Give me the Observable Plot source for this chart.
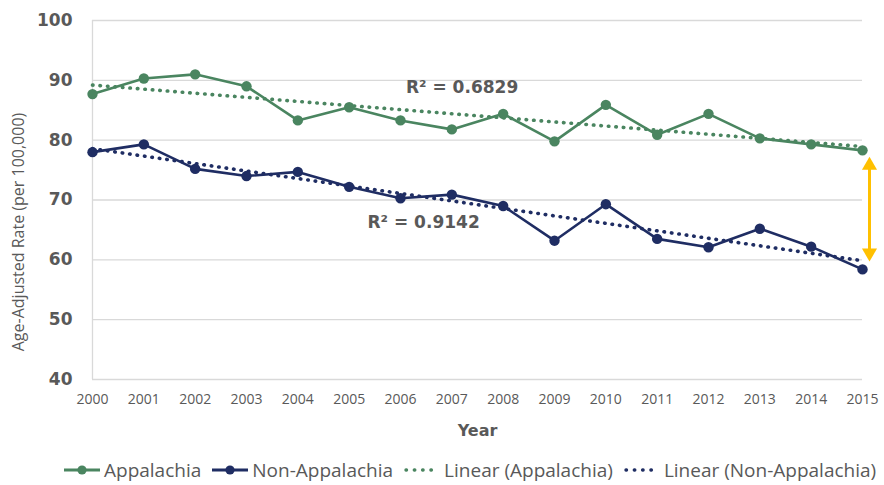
<!DOCTYPE html>
<html><head><meta charset="utf-8">
<script src="https://cdn.jsdelivr.net/npm/d3@7"></script>
<script src="https://cdn.jsdelivr.net/npm/@observablehq/plot@0.6"></script>
<style>
body{margin:0;background:#fff;}
#chart{position:relative;width:884px;height:485px;}
#legend{position:absolute;left:64px;top:457px;display:flex;align-items:center;font-family:"Open Sans",sans-serif;font-size:19px;color:#595959;white-space:nowrap;}
.item{display:flex;align-items:center;margin-right:11px;}
.item:last-child{margin-right:0;}
.item svg{margin-right:4px;}
</style></head><body>
<div id="chart"></div>
<script>
const years = [2000,2001,2002,2003,2004,2005,2006,2007,2008,2009,2010,2011,2012,2013,2014,2015];
const appalachia = [87.7,90.3,91.0,89.0,83.3,85.5,83.3,81.8,84.4,79.8,85.9,80.9,84.4,80.3,79.3,78.3];
const nonAppalachia = [78.0,79.3,75.2,74.0,74.7,72.2,70.3,70.9,69.0,63.2,69.3,63.5,62.1,65.2,62.2,58.4];
const yTicks = [40,50,60,70,80,90,100];
const r2Labels = ["R² = 0.6829","R² = 0.9142"];
const seriesNames = ["Appalachia","Non-Appalachia"];
const legendLabels = ["Appalachia","Non-Appalachia","Linear (Appalachia)","Linear (Non-Appalachia)"];

const green = "#4a8560", navy = "#1f2d63", grey = "#595959", gold = "#FFC000";

const appRows = years.map((y,i)=>({year:y, value:appalachia[i], series:seriesNames[0]}));
const nonRows = years.map((y,i)=>({year:y, value:nonAppalachia[i], series:seriesNames[1]}));
const last = years.length-1;
const gap = [{year:years[last], top:appalachia[last], bottom:nonAppalachia[last]}];

const bold = "DejaVu Sans";
const chart = Plot.plot({
  width:884, height:445,
  marginLeft:92, marginRight:22, marginTop:20, marginBottom:66,
  style:{background:"#fff", color:grey},
  x:{domain:[2000,2015], axis:null},
  y:{domain:[40,100], axis:null},
  marks:[
    Plot.gridY(yTicks, {stroke:"#d9d9d9", strokeOpacity:1, strokeWidth:1.3}),
    Plot.ruleX([years[0]], {stroke:"#d9d9d9", strokeWidth:1.3}),
    Plot.axisY(yTicks, {tickSize:0, tickPadding:20, tickFormat:d=>d, fontFamily:bold, fontWeight:"bold", fontSize:17, fill:grey, label:null}),
    Plot.axisX(years, {tickSize:0, tickPadding:15, tickFormat:d=>String(d), fontFamily:"Open Sans", fontSize:14, fill:grey, label:null}),
    Plot.linearRegressionY(appRows, {x:"year", y:"value", stroke:green, strokeWidth:3.6, strokeDasharray:"0.5,7", strokeLinecap:"round", ci:0}),
    Plot.linearRegressionY(nonRows, {x:"year", y:"value", stroke:navy, strokeWidth:3.6, strokeDasharray:"0.5,7", strokeLinecap:"round", ci:0}),
    Plot.line(appRows, {x:"year", y:"value", stroke:green, strokeWidth:2.6}),
    Plot.line(nonRows, {x:"year", y:"value", stroke:navy, strokeWidth:2.6}),
    Plot.dot(appRows, {x:"year", y:"value", fill:green, r:5.2}),
    Plot.dot(nonRows, {x:"year", y:"value", fill:navy, r:5.2}),
    Plot.text([r2Labels[0]], {x:2007.2, y:88.8, text:d=>d, fontFamily:bold, fontWeight:"bold", fontSize:17, fill:grey}),
    Plot.text([r2Labels[1]], {x:2006.45, y:66.3, text:d=>d, fontFamily:bold, fontWeight:"bold", fontSize:17, fill:grey}),
    Plot.ruleX(gap, {x:"year", y1:"top", y2:"bottom", dx:7, insetTop:15, insetBottom:16, stroke:gold, strokeWidth:3}),
    Plot.dot(gap, {x:"year", y:"top", dx:7, dy:15, symbol:"triangle", r:5.6, fill:gold, stroke:"none"}),
    Plot.dot(gap, {x:"year", y:"bottom", dx:7, dy:-16.5, symbol:"triangle", rotate:180, r:5.6, fill:gold, stroke:"none"}),
    Plot.text(["Age-Adjusted Rate (per 100,000)"], {frameAnchor:"left", dx:-74, dy:32, rotate:-90, textAnchor:"middle", text:d=>d, fontFamily:"Open Sans", fontSize:16, fill:grey}),
    Plot.text(["Year"], {frameAnchor:"bottom", dy:56, text:d=>d, fontFamily:bold, fontWeight:"bold", fontSize:16, fill:grey})
  ]
});
const holder = document.getElementById("chart");
holder.appendChild(chart);

const legend = document.createElement("div");
legend.id = "legend";
const swatch = (color, dotted) => dotted
  ? `<svg width="36" height="12"><line x1="2" y1="6" x2="34" y2="6" stroke="${color}" stroke-width="3.4" stroke-dasharray="0.5,7.8" stroke-linecap="round"/></svg>`
  : `<svg width="36" height="12"><line x1="0" y1="6" x2="36" y2="6" stroke="${color}" stroke-width="2.8"/><circle cx="18" cy="6" r="4.6" fill="${color}"/></svg>`;
const legendStyles = [[green,false],[navy,false],[green,true],[navy,true]];
legendLabels.forEach((lab,i)=>{
  const it = document.createElement("div");
  it.className = "item";
  it.innerHTML = swatch(legendStyles[i][0], legendStyles[i][1]) + `<span>${lab}</span>`;
  legend.appendChild(it);
});
holder.appendChild(legend);
</script>
</body></html>
